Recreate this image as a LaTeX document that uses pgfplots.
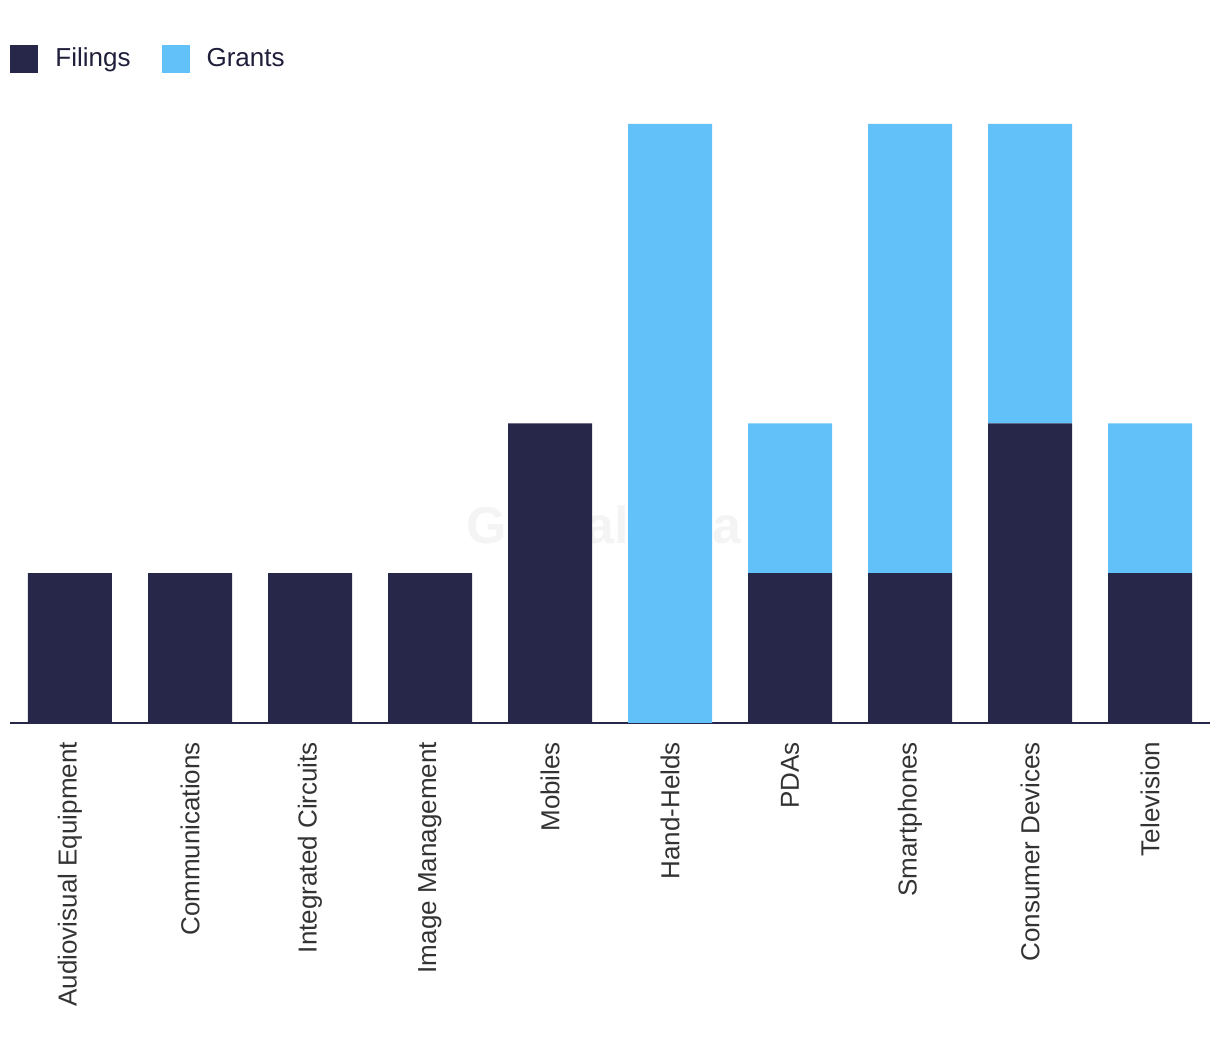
\documentclass[border=0pt]{standalone}
\usepackage{pgfplots}
\pgfplotsset{compat=1.18}
\usetikzlibrary{calc}
\usepackage{fontspec}
\setmainfont{Liberation Sans}
\definecolor{navy}{HTML}{27274A}
\definecolor{lblue}{HTML}{62C1F9}
\definecolor{lab}{HTML}{333333}
\begin{document}
\begin{tikzpicture}
\begin{axis}[
  name=ax,
  scale only axis,
  width=600pt, height=299.5pt,
  xmin=-0.5, xmax=9.5, ymin=0, ymax=4,
  ybar stacked, bar width=42pt,
  axis x line=bottom, axis y line=none,
  x axis line style={-, navy, line width=1pt},
  xtick=data, major tick length=0pt,
  xticklabels={Audiovisual Equipment,Communications,Integrated Circuits,Image Management,Mobiles,Hand-Helds,PDAs,Smartphones,Consumer Devices,Television},
  x tick label style={rotate=90, anchor=east, font=\fontsize{13pt}{15pt}\selectfont, text=lab, yshift=0pt, xshift=-6pt},
  clip=false,
  legend columns=2,
  legend style={draw=none, at={(rel axis cs:0,1)}, anchor=west, yshift=32.5pt, inner sep=0pt, font=\fontsize{13pt}{15pt}\selectfont, text=navy!80!black,
    /tikz/every even column/.append style={column sep=13.5pt}},
  legend image code/.code={\fill[#1] (0pt,-7pt) rectangle (14pt,7pt); \path[draw=none,fill=none] (0pt,0pt) rectangle (20.5pt,0.1pt);},
]
\addplot[fill=navy, draw=none] coordinates {(0,1) (1,1) (2,1) (3,1) (4,2) (5,0) (6,1) (7,1) (8,2) (9,1)};
\addplot[fill=lblue, draw=none] coordinates {(0,0) (1,0) (2,0) (3,0) (4,0) (5,4) (6,1) (7,3) (8,2) (9,1)};
\legend{Filings,Grants}
\node[font=\bfseries\fontsize{26pt}{30pt}\selectfont, text=gray, opacity=0.09] at (axis cs:4.45,1.32) {GlobalData};
\end{axis}
\pgfresetboundingbox
\path ($(ax.south west)+(-5pt,-167.5pt)$) rectangle ($(ax.north east)+(5pt,62pt)$);
\end{tikzpicture}
\end{document}
